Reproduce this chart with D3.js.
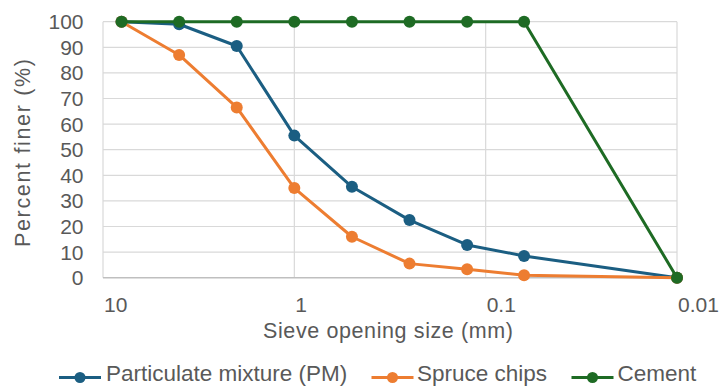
<!DOCTYPE html>
<html>
<head>
<meta charset="utf-8">
<script src="https://cdn.jsdelivr.net/npm/d3@7"></script>
<style>
  html, body { margin: 0; padding: 0; background: #fff; }
  svg { display: block; font-family: "Liberation Sans", Arial, sans-serif; }
</style>
</head>
<body>
<svg id="chart" width="719" height="390"></svg>
<script>
// Sieve openings (mm) and percent passing for each material
const sieveSizes = [8, 4, 2, 1, 0.5, 0.25, 0.125, 0.063, 0.01];
const pmValues = [100, 99, 90.5, 55.5, 35.5, 22.5, 12.8, 8.5, 0];
const spruceValues = [100, 87, 66.5, 35, 16, 5.5, 3.3, 1, 0];
const cementValues = [100, 100, 100, 100, 100, 100, 100, 100, 0];

const seriesNames = ["Particulate mixture (PM)", "Spruce chips", "Cement"];
const seriesColors = ["#1b5e82", "#ed7d31", "#1e6b24"];

const xTicks = [10, 1, 0.1, 0.01];
const yTicks = [0, 10, 20, 30, 40, 50, 60, 70, 80, 90, 100];

const series = [pmValues, spruceValues, cementValues].map((vals, i) => ({
  name: seriesNames[i],
  color: seriesColors[i],
  points: sieveSizes.map((s, j) => ({ size: s, value: vals[j] }))
}));

const svg = d3.select("#chart");
const plot = { left: 103, right: 677, top: 21.7, bottom: 277.7 };
const textColor = "#595959";

// Log axis, coarse sizes on the left
const x = d3.scaleLog().domain([10, 0.01]).range([plot.left, plot.right]);
const y = d3.scaleLinear().domain([0, 100]).range([plot.bottom, plot.top]);

// Horizontal gridlines
svg.append("g")
  .selectAll("line")
  .data(yTicks.filter(t => t > 0))
  .join("line")
  .attr("x1", plot.left).attr("x2", plot.right)
  .attr("y1", d => y(d)).attr("y2", d => y(d))
  .attr("stroke", "#d9d9d9").attr("stroke-width", 1.2);

// Vertical gridlines at decades
svg.append("g")
  .selectAll("line")
  .data(xTicks)
  .join("line")
  .attr("x1", d => x(d)).attr("x2", d => x(d))
  .attr("y1", plot.top).attr("y2", plot.bottom)
  .attr("stroke", "#d9d9d9").attr("stroke-width", 1.2);

// Bottom axis line
svg.append("line")
  .attr("x1", plot.left).attr("x2", plot.right)
  .attr("y1", plot.bottom).attr("y2", plot.bottom)
  .attr("stroke", "#bfbfbf").attr("stroke-width", 1.4);

// Y tick labels
svg.append("g")
  .selectAll("text")
  .data(yTicks)
  .join("text")
  .attr("x", 83.5)
  .attr("y", d => y(d))
  .attr("dy", "0.36em")
  .attr("text-anchor", "end")
  .attr("font-size", 21)
  .attr("fill", textColor)
  .text(d => d);

// X tick labels
svg.append("g")
  .selectAll("text")
  .data(xTicks)
  .join("text")
  .attr("x", d => x(d) + 1)
  .attr("y", 311.7)
  .attr("text-anchor", "start")
  .attr("font-size", 21)
  .attr("fill", textColor)
  .text(d => d);

// Axis titles
svg.append("text")
  .attr("x", 263)
  .attr("y", 338)
  .attr("font-size", 21.5)
  .attr("textLength", 250)
  .attr("lengthAdjust", "spacing")
  .attr("fill", textColor)
  .text("Sieve opening size (mm)");

svg.append("text")
  .attr("transform", "translate(30,247) rotate(-90)")
  .attr("font-size", 21.5)
  .attr("textLength", 188)
  .attr("lengthAdjust", "spacing")
  .attr("fill", textColor)
  .text("Percent finer (%)");

// Series lines and markers
const line = d3.line().x(d => x(d.size)).y(d => y(d.value));

const groups = svg.append("g")
  .selectAll("g")
  .data(series)
  .join("g");

groups.append("path")
  .attr("d", d => line(d.points))
  .attr("fill", "none")
  .attr("stroke", d => d.color)
  .attr("stroke-width", 3)
  .attr("stroke-linejoin", "round");

groups.selectAll("circle")
  .data(d => d.points.map(p => ({ ...p, color: d.color })))
  .join("circle")
  .attr("cx", d => x(d.size))
  .attr("cy", d => y(d.value))
  .attr("r", 6)
  .attr("fill", d => d.color);

// Legend
const legendItems = [
  { lineX: 59, textX: 106 },
  { lineX: 371.5, textX: 417 },
  { lineX: 571.5, textX: 617.5 }
];
const legendY = 377.5;
const legend = svg.append("g")
  .selectAll("g")
  .data(series)
  .join("g");

legend.append("line")
  .attr("x1", (d, i) => legendItems[i].lineX)
  .attr("x2", (d, i) => legendItems[i].lineX + 42)
  .attr("y1", legendY).attr("y2", legendY)
  .attr("stroke", d => d.color)
  .attr("stroke-width", 3);

legend.append("circle")
  .attr("cx", (d, i) => legendItems[i].lineX + 21)
  .attr("cy", legendY)
  .attr("r", 5.5)
  .attr("fill", d => d.color);

legend.append("text")
  .attr("x", (d, i) => legendItems[i].textX)
  .attr("y", 381)
  .attr("font-size", 22.5)
  .attr("fill", textColor)
  .text(d => d.name);
</script>
</body>
</html>
